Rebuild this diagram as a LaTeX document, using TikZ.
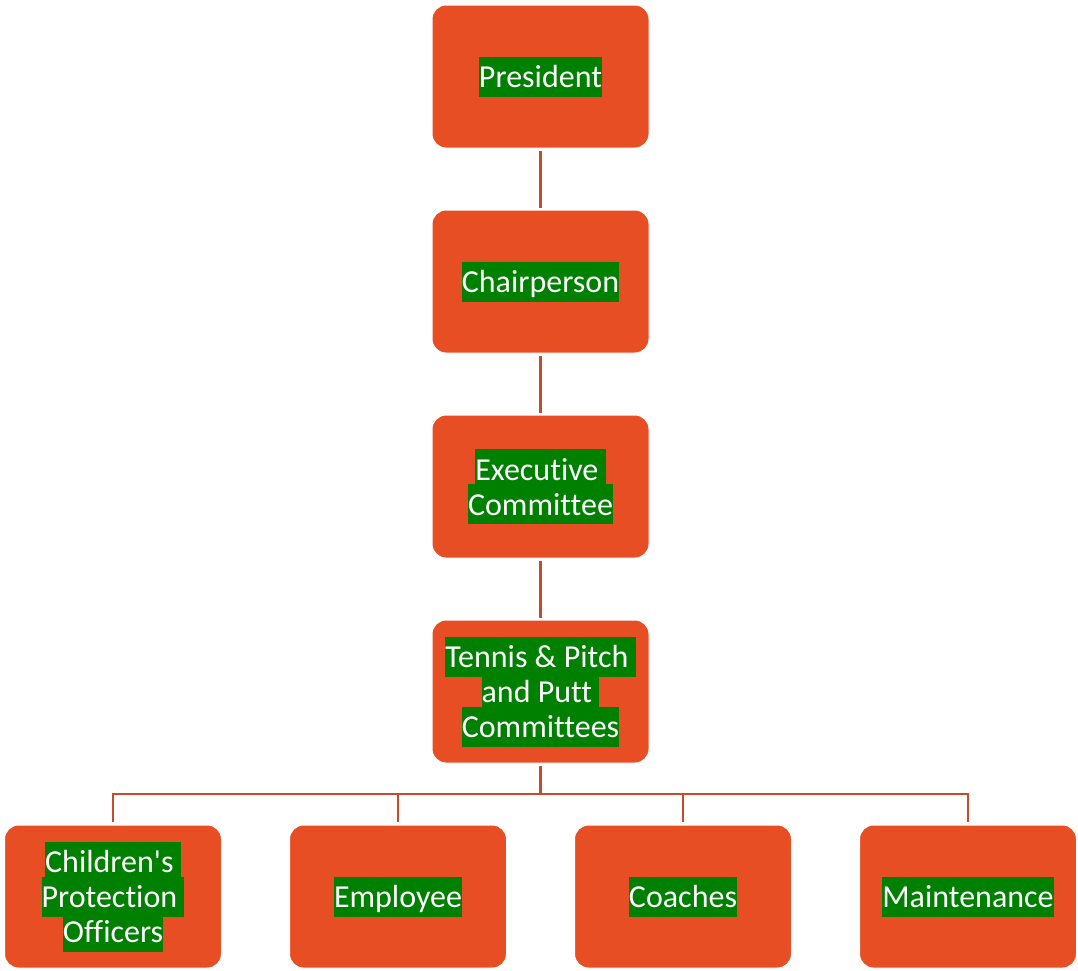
\documentclass[tikz,border=0pt]{standalone}
\usepackage{fontspec}
\setmainfont{Carlito}[Ligatures=NoCommon]
\usepackage{xcolor}

\definecolor{boxorange}{RGB}{232,78,36}
\definecolor{lineorange}{RGB}{200,74,42}
\definecolor{hlgreen}{RGB}{0,128,0}
\newcommand{\hlbox}[1]{{\setlength{\fboxsep}{0pt}\colorbox{hlgreen}{\rule[-9pt]{0pt}{40pt}#1}}}
\newcommand{\orgfont}{\fontsize{32}{35}\selectfont\lineskiplimit=-30pt\relax}

\begin{document}
\begin{tikzpicture}[x=1pt,y=1pt,yscale=-1,
	orgbox/.style={fill=boxorange, draw=white, line width=1pt, rounded corners=14pt, minimum width=217pt, minimum height=143pt, inner sep=0pt, align=center, text=white, font=\orgfont},
	link/.style={draw=lineorange, line width=2.5pt}]
		\useasboundingbox (0,0) rectangle (1078,970);
		
		%Shape: Rounded Rectangle [id:president] 
		\node[orgbox] (pres) at (540.5,76.5) {\hlbox{President}};
		%Shape: Rounded Rectangle [id:chairperson] 
		\node[orgbox] (chair) at (540.5,281.5) {\hlbox{Chairperson}};
		%Shape: Rounded Rectangle [id:executive] 
		\node[orgbox] (exec) at (540.5,486.5) {\hlbox{Executive\ }\\\hlbox{Committee}};
		%Shape: Rounded Rectangle [id:committees] 
		\node[orgbox] (tpc) at (540.5,691.5) {\hlbox{Tennis \& Pitch\ }\\\hlbox{and Putt\ }\\\hlbox{Committees}};
		%Shape: Rounded Rectangle [id:protection] 
		\node[orgbox] (cpo) at (113,896.5) {\hlbox{Children\textquotesingle s\ }\\\hlbox{Protection\ }\\\hlbox{Officers}};
		%Shape: Rounded Rectangle [id:employee] 
		\node[orgbox] (emp) at (398,896.5) {\hlbox{Employee}};
		%Shape: Rounded Rectangle [id:coaches] 
		\node[orgbox] (coach) at (683,896.5) {\hlbox{Coaches}};
		%Shape: Rounded Rectangle [id:maintenance] 
		\node[orgbox] (maint) at (968,896.5) {\hlbox{Maintenance}};
		
		%Straight Lines [id:chain] 
		\draw[link, shorten <=2pt, shorten >=2pt] (pres) -- (chair);
		\draw[link, shorten <=2pt, shorten >=2pt] (chair) -- (exec);
		\draw[link, shorten <=2pt, shorten >=2pt] (exec) -- (tpc);
		
		%Straight Lines [id:bus] 
		\coordinate (bus) at (540.5,794);
		\draw[link, shorten <=2pt] (tpc) -- (bus);
		\foreach \n in {cpo,emp,coach,maint}
			\draw[link, shorten >=3pt] (bus) -| (\n.north);
		
	\end{tikzpicture}
\end{document}
